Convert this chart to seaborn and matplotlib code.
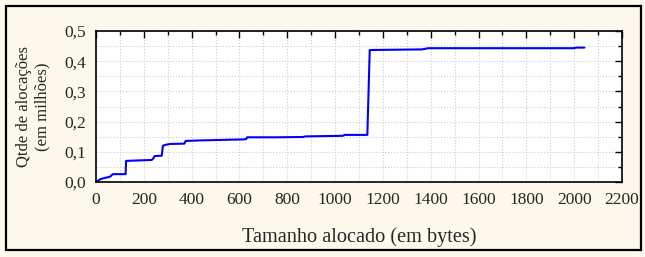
import matplotlib.pyplot as plt
import matplotlib.ticker as mticker
from matplotlib.patches import Rectangle
import pandas as pd
import seaborn as sns

# allocation size (bytes) vs cumulative allocations (millions)
tamanho = [0, 10, 20, 45, 60, 70, 124, 126, 200, 233, 240, 245, 275, 280, 290,
           310, 370, 375, 450, 615, 628, 632, 750, 866, 875, 1033, 1040, 1135,
           1145, 1250, 1363, 1390, 1700, 1997, 2010, 2043]
alocacoes = [0.0, 0.005, 0.010, 0.015, 0.018, 0.026, 0.026, 0.070, 0.072, 0.073,
             0.078, 0.086, 0.087, 0.120, 0.123, 0.126, 0.127, 0.136, 0.138, 0.141,
             0.142, 0.148, 0.148, 0.149, 0.151, 0.153, 0.156, 0.156,
             0.437, 0.438, 0.439, 0.443, 0.443, 0.443, 0.445, 0.445]

df = pd.DataFrame({'tamanho': tamanho, 'alocacoes': alocacoes})

sns.set_style("white")
plt.rcParams['font.family'] = ['Liberation Serif', 'DejaVu Serif']

fig = plt.figure(figsize=(6.45, 2.57), dpi=100)
fig.patch.set_facecolor('#fdf8ec')
ax = fig.add_axes([0.1488, 0.2918, 0.8155, 0.5876])
ax.set_facecolor('white')

sns.lineplot(data=df, x='tamanho', y='alocacoes', color='#0000ff', linewidth=1.5, ax=ax)

ax.set_xlim(0, 2200)
ax.set_ylim(0, 0.5)
ax.xaxis.set_major_locator(mticker.MultipleLocator(200))
ax.xaxis.set_minor_locator(mticker.MultipleLocator(100))
ax.yaxis.set_major_locator(mticker.MultipleLocator(0.1))
ax.yaxis.set_minor_locator(mticker.MultipleLocator(0.05))
ax.yaxis.set_major_formatter(mticker.FuncFormatter(lambda v, p: f'{v:.1f}'.replace('.', ',')))
ax.grid(which='both', linestyle=':', color='#cccccc', linewidth=0.8)
ax.tick_params(which='both', direction='in', top=True, right=True, color='black', labelsize=12.5)
ax.tick_params(which='major', length=5, width=1, pad=7)
ax.tick_params(which='minor', length=3, width=1)
for s in ax.spines.values():
    s.set_color('black')
    s.set_linewidth(1.2)

ax.set_xlabel('Tamanho alocado (em bytes)', fontsize=14.6, labelpad=14)
ax.set_ylabel('Qtde de alocações\n(em milhões)', fontsize=12, labelpad=10)

# outer frame
fig.patches.append(Rectangle((0.0093, 0.0272), 0.9845, 0.9495, transform=fig.transFigure,
                             fill=False, edgecolor='black', linewidth=1.6))

fig.savefig('out.png', dpi=100, facecolor=fig.get_facecolor())
